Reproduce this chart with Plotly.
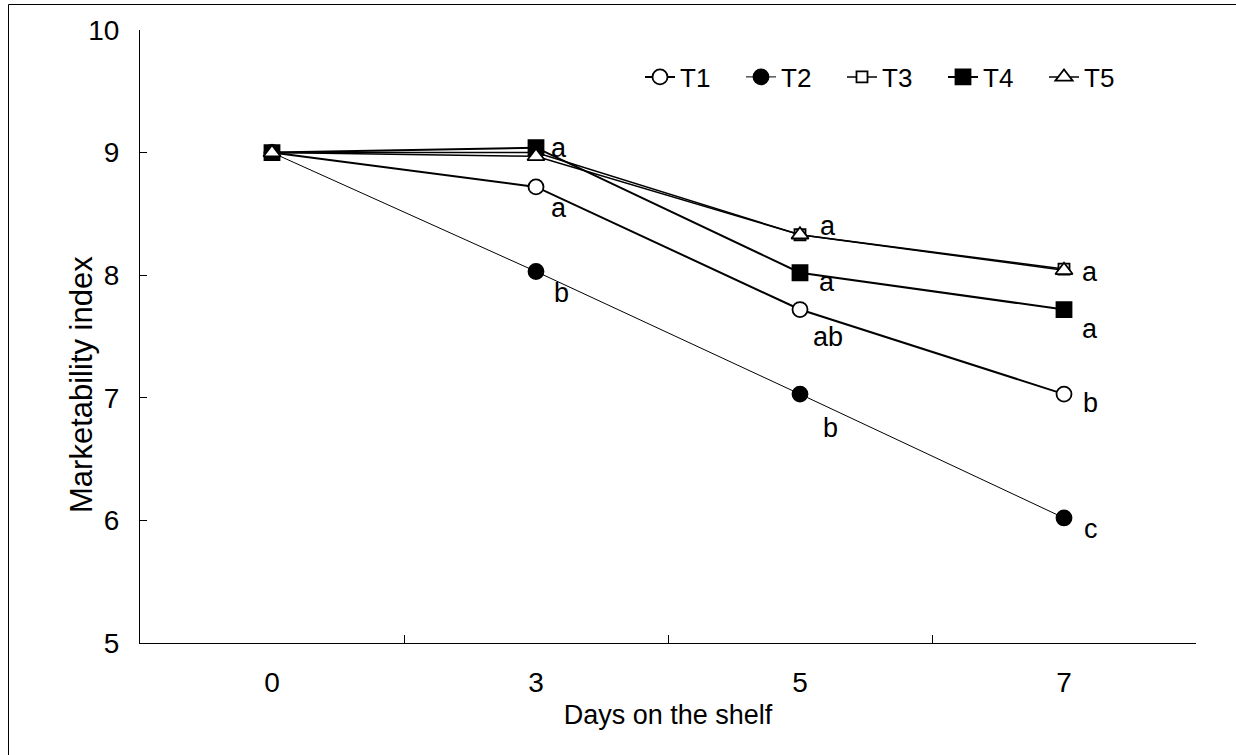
import plotly.graph_objects as go

# ---- data ----
days = ["0", "3", "5", "7"]
t1 = [9.0, 8.72, 7.72, 7.03]
t2 = [9.0, 8.03, 7.03, 6.02]
t3 = [9.0, 9.0, 8.33, 8.05]
t4 = [9.0, 9.04, 8.02, 7.72]
t5 = [9.0, 8.97, 8.33, 8.04]
series_names = ["T1", "T2", "T3", "T4", "T5"]
series_values = [t1, t2, t3, t4, t5]

# significance letters (None = no label)
letters_t1 = [None, "a", "ab", "b"]
letters_t2 = [None, "b", "b", "c"]
letters_t4 = [None, "a", "a", "a"]
letters_t5 = [None, None, "a", "a"]

y_ticks = [5, 6, 7, 8, 9, 10]

# ---- styles ----
FONT = "Liberation Sans, Arial, sans-serif"
styles = {
    "T1": dict(symbol="circle-open", lw=2.0, msize=15),
    "T2": dict(symbol="circle", lw=1.0, msize=15),
    "T3": dict(symbol="square-open", lw=1.5, msize=11),
    "T4": dict(symbol="square", lw=2.0, msize=15),
    "T5": dict(symbol="triangle-up-open", lw=1.5, msize=15),
}

fig = go.Figure()
for name, vals in zip(series_names, series_values):
    st = styles[name]
    open_marker = st["symbol"].endswith("-open")
    fig.add_trace(go.Scatter(
        x=days, y=vals, name=name, mode="lines+markers",
        line=dict(color="black", width=st["lw"]),
        marker=dict(
            symbol=st["symbol"].replace("-open", "") if open_marker else st["symbol"],
            size=st["msize"],
            color="white" if open_marker else "black",
            line=dict(color="black", width=1.8),
        ),
    ))

# letter annotations: (letters, values, per-point pixel offsets)
label_sets = [
    (letters_t5, t5, [(0, 0), (0, 0), (28, -9), (26, 2)]),
    (letters_t4, t4, [(0, 0), (23, 0), (27, 9), (26, 19)]),
    (letters_t1, t1, [(0, 0), (23, 21), (28, 27), (26, 9)]),
    (letters_t2, t2, [(0, 0), (25, 21), (30, 34), (27, 11)]),
]
for letters, vals, offs in label_sets:
    for i, (lab, v, (dx, dy)) in enumerate(zip(letters, vals, offs)):
        if lab is None:
            continue
        fig.add_annotation(x=i, y=v, xref="x", yref="y", text=lab, showarrow=False,
                           xanchor="center", yanchor="middle",
                           xshift=dx, yshift=-dy,
                           font=dict(family=FONT, size=27, color="black"))

# y-axis title as annotation
fig.add_annotation(text="Marketability index", xref="paper", yref="paper",
                   x=(81 - 140) / 1056, y=(643 - 385) / 613, textangle=-90,
                   xanchor="center", yanchor="middle",
                   showarrow=False, font=dict(family=FONT, size=31, color="black"))

# outer frame (left and top edges of the page border)
frame_left = (8.5 - 140) / 1056
frame_top = (643 - 4.5) / 613
fig.add_shape(type="line", xref="paper", yref="paper",
              x0=frame_left, x1=frame_left, y0=-0.3, y1=frame_top,
              line=dict(color="black", width=1))
fig.add_shape(type="line", xref="paper", yref="paper",
              x0=frame_left, x1=1.3, y0=frame_top, y1=frame_top,
              line=dict(color="black", width=1))

fig.update_layout(
    width=1236, height=755,
    margin=dict(l=140, r=40, t=30, b=112),
    paper_bgcolor="white", plot_bgcolor="white",
    font=dict(family=FONT, color="black"),
    showlegend=True,
    legend=dict(orientation="h", x=(640 - 140) / 1056, y=(643 - 77) / 613,
                xanchor="left", yanchor="middle",
                font=dict(family=FONT, size=26, color="black"),
                bgcolor="rgba(0,0,0,0)", itemwidth=30,
                entrywidth=56, entrywidthmode="pixels"),
    xaxis=dict(type="category", tickson="boundaries", ticks="inside", ticklen=8,
               range=[-0.5, 3.5],
               tickcolor="black", showline=True, linecolor="black", linewidth=1,
               showgrid=False, zeroline=False,
               tickfont=dict(family=FONT, size=28, color="black"),
               ticklabelstandoff=14,
               title=dict(text="Days on the shelf", standoff=8,
                          font=dict(family=FONT, size=27, color="black"))),
    yaxis=dict(range=[5, 10], tickvals=y_ticks, ticks="inside", ticklen=7,
               tickcolor="black", showline=True, linecolor="black", linewidth=1,
               showgrid=False, zeroline=False,
               tickfont=dict(family=FONT, size=28, color="black"),
               ticklabelstandoff=14),
)

fig.write_html(
    "out.html",
    config={"displayModeBar": False},
    post_script="document.body.style.margin='0';document.body.style.overflow='hidden';",
)
